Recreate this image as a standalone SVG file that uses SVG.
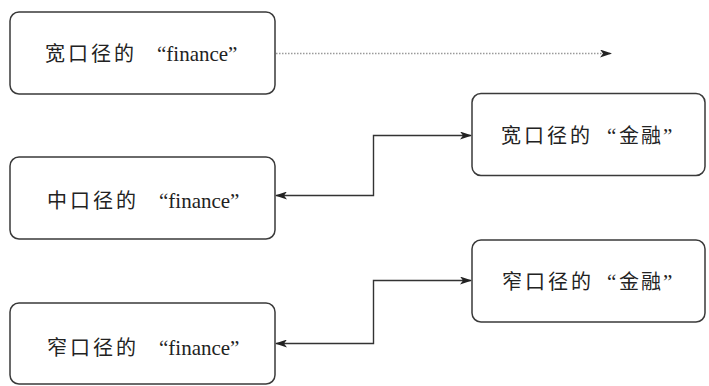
<svg xmlns="http://www.w3.org/2000/svg" width="709" height="386" viewBox="0 0 709 386">
<defs>
<style>
.box{fill:#fff;stroke:#3a3a3a;stroke-width:1.5}
.t{font-family:"Liberation Serif","Noto Sans CJK SC",serif;font-size:21px;fill:#222}
.cjk{font-family:"Noto Sans CJK SC",sans-serif;font-size:20px;letter-spacing:3px}
.line{fill:none;stroke:#333;stroke-width:1.4}
.dot{fill:none;stroke:#9a9a9a;stroke-width:1.4;stroke-dasharray:1.5 1.5}
</style>
<marker id="ah" viewBox="0 0 12 8" refX="11" refY="4" markerWidth="12" markerHeight="8" markerUnits="userSpaceOnUse" orient="auto-start-reverse">
<path d="M0,0 L12,4 L0,8 L3,4 Z" fill="#222"/>
</marker>
</defs>
<rect width="709" height="386" fill="#fff"/>
<g id="connectors">
<line class="dot" x1="276" y1="53.5" x2="611" y2="53.5" marker-end="url(#ah)"/>
<path class="line" d="M276,195.5 H373.5 V135.5 H471" marker-start="url(#ah)" marker-end="url(#ah)"/>
<path class="line" d="M276,343.5 H373.5 V280.5 H471" marker-start="url(#ah)" marker-end="url(#ah)"/>
</g>
<g id="n1">
<rect class="box" x="10" y="12" width="265" height="82" rx="9"/>
<text class="t" y="61"><tspan class="cjk" x="45">宽口径的</tspan><tspan x="157">“finance”</tspan></text>
</g>
<g id="n2">
<rect class="box" x="10" y="157" width="265" height="82" rx="9"/>
<text class="t" y="208"><tspan class="cjk" x="47">中口径的</tspan><tspan x="159">“finance”</tspan></text>
</g>
<g id="n3">
<rect class="box" x="10" y="303" width="265" height="81" rx="9"/>
<text class="t" y="355"><tspan class="cjk" x="47">窄口径的</tspan><tspan x="159">“finance”</tspan></text>
</g>
<g id="n4">
<rect class="box" x="472" y="93.5" width="233" height="82" rx="9"/>
<text class="t" y="143"><tspan class="cjk" x="501">宽口径的</tspan><tspan x="607">“</tspan><tspan class="cjk" x="619" style="letter-spacing:2px">金融</tspan><tspan x="663">”</tspan></text>
</g>
<g id="n5">
<rect class="box" x="472" y="240" width="233" height="82" rx="9"/>
<text class="t" y="289"><tspan class="cjk" x="502">窄口径的</tspan><tspan x="607">“</tspan><tspan class="cjk" x="619" style="letter-spacing:2px">金融</tspan><tspan x="663">”</tspan></text>
</g>
</svg>
